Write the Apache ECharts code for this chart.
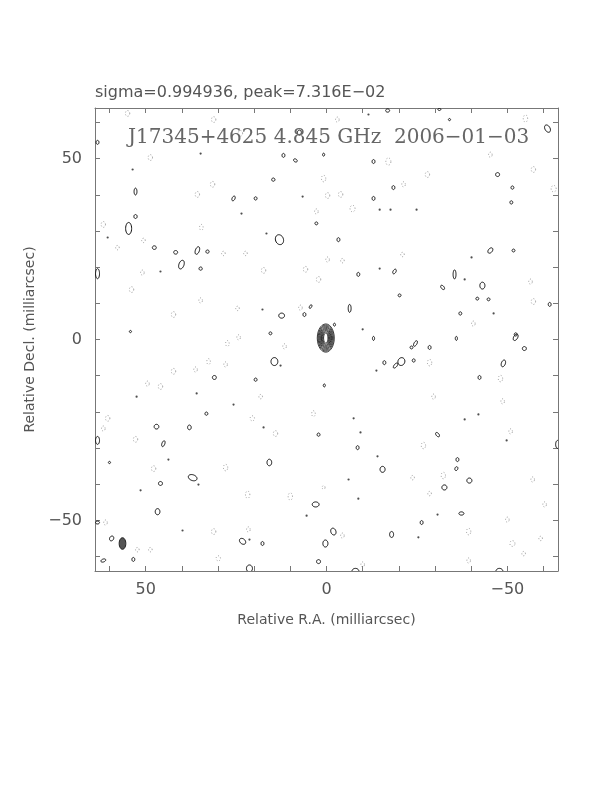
<!DOCTYPE html>
<html><head><meta charset="utf-8">
<script src="https://cdn.jsdelivr.net/npm/echarts@6/dist/echarts.min.js"></script>
<style>html,body{margin:0;padding:0;background:#fff}#c{width:612px;height:792px}</style>
</head><body><div id="c"></div><script>
// ---- data (milliarcsec) ----
var headerText = 'sigma=0.994936, peak=7.316E\u221202';
var mapTitle = 'J17345+4625 4.845 GHz  2006\u221201\u221203';
var xTitle = 'Relative R.A. (milliarcsec)';
var yTitle = 'Relative Decl. (milliarcsec)';
var axisRange = [-64, 64];
var minorTicks = [-60, -50, -40, -30, -20, -10, 0, 10, 20, 30, 40, 50, 60];
var labelTicks = [-50, 0, 50];

// core source: centre and nested contour semi-axes (RA, Dec)
var sourceCentre = [0.2, 0.4];
var sourceA = [2.35, 2.1, 1.85, 1.62, 1.4, 1.2, 1.0, 0.8, 0.6];
var sourceB = [3.9, 3.6, 3.3, 3.0, 2.7, 2.4, 2.1, 1.75, 1.4];

// restoring beam: [ra, dec, semiA, semiB]
var beam = [56.4, -56.4, 0.92, 1.6];

// positive noise contours: [ra, dec, semiA, semiB, tilt]
var posContours = [
[63.3,54.5,0.4,0.55,0],[7.5,57.2,0.55,0.7,0],[11.9,50.9,0.4,0.55,0],[8.6,49.5,0.55,0.4,-30],
[0.8,51.1,0.3,0.4,0],[14.7,44.2,0.45,0.45,0],[52.8,40.9,0.4,0.95,0],[25.7,39.0,0.4,0.7,-25],
[19.6,39.0,0.4,0.45,0],[52.8,34.0,0.45,0.55,0],[54.7,30.7,0.83,1.66,0],[13.0,27.6,1.1,1.4,20],
[2.8,32.1,0.4,0.4,0],[47.6,25.4,0.55,0.5,0],[41.7,24.1,0.55,0.5,0],[35.7,24.6,0.55,1.1,-20],
[32.9,24.3,0.45,0.45,0],[40.1,20.7,0.7,1.25,-20],[34.8,19.6,0.45,0.45,0],[63.3,18.2,0.55,1.4,0],
[12.4,6.6,0.8,0.7,0],[6.1,6.9,0.4,0.55,0],[4.4,9.1,0.3,0.55,-30],[54.2,2.2,0.3,0.3,0],
[15.5,1.7,0.4,0.4,0],[-16.9,63.3,0.55,0.45,0],[-31.2,63.6,0.4,0.3,0],[-34.0,60.8,0.3,0.3,0],
[-61.1,58.3,0.7,1.1,30],[-13.0,49.2,0.4,0.55,0],[-47.3,45.6,0.55,0.55,0],[-51.4,42.0,0.4,0.45,0],
[-18.5,42.0,0.4,0.55,0],[-13.0,39.0,0.4,0.55,0],[-51.1,37.9,0.4,0.45,0],[-3.3,27.6,0.4,0.55,0],
[-45.3,24.6,0.55,0.85,-40],[-51.7,24.6,0.4,0.4,0],[-8.8,18.0,0.4,0.55,0],[-18.8,18.8,0.4,0.7,-30],
[-35.4,18.0,0.4,1.25,0],[-32.1,14.4,0.4,0.7,40],[-43.1,14.9,0.7,0.95,0],[-20.2,12.2,0.4,0.4,0],
[-41.7,11.3,0.4,0.4,0],[-44.8,11.1,0.4,0.4,0],[-6.4,8.6,0.4,1.1,0],[-37.0,7.2,0.4,0.45,0],
[-61.7,9.7,0.4,0.55,0],[-2.2,4.1,0.3,0.4,0],[-52.3,1.4,0.4,0.45,0],[14.4,-6.1,0.95,1.1,0],
[31.0,-10.5,0.55,0.55,0],[19.6,-11.1,0.4,0.45,0],[0.6,-12.7,0.3,0.4,0],[33.2,-20.5,0.4,0.45,0],
[47.0,-24.1,0.65,0.65,0],[37.9,-24.3,0.5,0.65,0],[63.3,-27.9,0.55,1.1,0],[45.1,-28.8,0.4,0.85,-20],
[2.2,-26.3,0.4,0.45,0],[60.0,-34.0,0.3,0.3,0],[15.8,-34.0,0.65,0.9,0],[37.0,-38.2,1.25,0.8,-20],
[45.9,-39.8,0.55,0.55,0],[3.0,-45.6,0.95,0.7,0],[46.7,-47.6,0.65,0.85,0],[63.3,-50.6,0.55,0.4,0],
[59.4,-55.0,0.55,0.7,-30],[53.4,-60.8,0.4,0.55,0],[61.7,-61.1,0.7,0.4,20],[23.2,-55.8,0.97,0.7,-40],
[17.7,-56.4,0.4,0.55,0],[0.3,-56.4,0.7,0.97,0],[21.3,-63.3,0.83,0.97,0],[2.2,-61.4,0.55,0.55,0],
[-13.0,0.3,0.3,0.55,0],[-24.6,-1.1,0.4,0.85,-30],[-23.5,-2.2,0.4,0.4,0],[-28.5,-2.2,0.4,0.55,0],
[-35.9,0.3,0.3,0.55,0],[-52.3,0.6,0.55,0.97,-30],[-54.7,-2.5,0.55,0.55,0],[-16.0,-6.4,0.4,0.55,0],
[-20.7,-6.1,0.95,1.1,-20],[-19.1,-7.2,0.4,0.85,-40],[-24.1,-5.8,0.4,0.45,0],[-48.9,-6.6,0.55,0.97,-20],
[-42.3,-10.5,0.4,0.55,0],[-30.7,-26.3,0.4,0.7,40],[-8.6,-29.9,0.4,0.55,0],[-63.9,-29.0,0.55,1.1,0],
[-36.2,-33.2,0.4,0.55,0],[-35.9,-35.7,0.4,0.55,-20],[-15.5,-35.9,0.7,0.83,0],[-39.5,-39.0,0.7,0.7,0],
[-32.6,-40.9,0.7,0.7,0],[-37.3,-48.1,0.7,0.45,0],[-26.3,-50.6,0.4,0.55,0],[-1.9,-53.1,0.7,0.97,20],
[-18.0,-53.9,0.55,0.83,0],[-8.0,-64.1,0.97,0.83,0],[-47.8,-64.1,0.97,0.83,0]
];

// negative noise contours: [ra, dec, semiA, semiB]
var negContours = [
[55.0,62.5,0.6,0.8],[48.7,50.3,0.6,0.8],[31.2,60.8,0.6,0.8],[23.8,57.0,0.6,0.8],[31.5,42.9,0.6,0.8],
[35.7,40.1,0.6,0.8],[0.8,44.5,0.6,0.9],[-0.3,39.8,0.6,0.8],[2.8,35.4,0.5,0.7],[61.7,31.8,0.6,0.8],
[34.6,31.0,0.5,0.8],[50.6,27.4,0.5,0.6],[57.8,25.4,0.5,0.6],[28.5,23.8,0.5,0.6],[22.4,23.8,0.5,0.6],
[17.4,19.1,0.6,0.8],[5.8,19.4,0.6,0.8],[2.2,16.6,0.6,0.8],[-0.3,22.1,0.5,0.7],[50.9,18.5,0.5,0.7],
[53.9,13.8,0.6,0.8],[34.8,10.8,0.5,0.7],[42.3,6.9,0.6,0.8],[7.2,8.8,0.5,0.7],[24.6,8.6,0.5,0.6],
[-3.0,60.8,0.5,0.7],[-17.1,49.2,0.7,1.0],[-27.9,45.6,0.6,0.8],[-3.9,40.1,0.6,0.8],[-7.2,36.2,0.7,0.9],
[-21.3,42.9,0.5,0.7],[-55.0,61.1,0.6,1.0],[-57.2,47.0,0.6,0.8],[-62.8,41.7,0.7,0.9],[-45.3,51.1,0.5,0.7],
[-4.4,21.8,0.5,0.6],[-21.0,23.5,0.5,0.6],[-57.2,10.5,0.6,0.8],[-56.4,16.0,0.5,0.7],[-40.6,4.4,0.5,0.7],
[27.4,-1.1,0.5,0.8],[24.3,0.6,0.5,0.7],[11.6,-1.9,0.5,0.7],[32.6,-6.1,0.5,0.8],[27.9,-6.9,0.5,0.7],
[42.3,-8.8,0.6,0.8],[36.2,-8.3,0.5,0.7],[49.5,-12.2,0.5,0.7],[45.9,-13.0,0.6,0.8],[18.2,-15.8,0.5,0.6],
[60.5,-21.8,0.6,0.8],[61.7,-24.6,0.5,0.7],[52.8,-27.6,0.6,0.8],[20.5,-21.8,0.6,0.7],[14.1,-26.0,0.6,0.8],
[3.6,-20.5,0.5,0.8],[47.8,-35.7,0.6,0.8],[27.9,-35.4,0.6,0.9],[21.8,-42.9,0.6,1.0],[10.0,-43.4,0.6,1.0],
[61.1,-50.6,0.5,0.7],[31.2,-53.1,0.6,0.8],[21.6,-52.5,0.5,0.7],[52.3,-58.1,0.5,0.6],[48.7,-58.1,0.5,0.6],
[29.9,-60.5,0.6,0.7],[-28.5,-6.4,0.6,0.9],[-48.1,-10.8,0.6,0.9],[-48.7,-17.1,0.5,0.7],[-29.6,-15.8,0.5,0.7],
[-50.9,-25.4,0.5,0.7],[-26.8,-29.3,0.6,0.9],[-23.8,-38.2,0.5,0.6],[-32.3,-37.6,0.6,0.9],[-28.5,-42.6,0.5,0.6],
[-57.0,-38.7,0.5,0.7],[-60.3,-45.6,0.5,0.7],[-39.3,-53.1,0.6,0.9],[-50.0,-49.8,0.5,0.7],[-51.4,-56.4,0.7,0.8],
[-54.5,-59.2,0.5,0.6],[-39.3,-61.1,0.5,0.7],[-4.4,-54.2,0.5,0.7],[-10.0,-62.2,0.5,0.7],[-59.2,-55.0,0.5,0.6],
[0.8,-40.9,0.4,0.5]
];

// single-pixel positive peaks: [ra, dec]
var tinyPeaks = [
[34.8,51.4],[53.6,47.0],[6.6,39.5],[23.5,34.8],[16.6,29.3],[60.5,28.2],[45.9,18.8],[17.7,8.3],
[-11.6,62.2],[-14.7,35.9],[-17.7,35.9],[-24.9,35.9],[-14.7,19.6],[-40.1,22.7],[-38.2,16.6],[-46.2,7.2],
[-10.0,2.8],[12.7,-7.2],[35.9,-14.9],[52.5,-15.8],[25.7,-18.0],[17.4,-24.3],[43.7,-33.2],[51.4,-41.7],
[35.4,-40.1],[5.5,-48.7],[39.8,-52.8],[21.3,-55.3],[-13.8,-8.6],[-7.5,-21.8],[-9.4,-25.7],[-14.1,-32.3],
[-6.1,-38.7],[-8.8,-44.0],[-30.7,-48.4],[-25.4,-54.7],[-49.8,-27.9],[-42.0,-20.7],[-38.2,-22.1]
];

// ---- build ----
var sourceLevels = sourceA.map(function (a, i) { return [sourceCentre[0], sourceCentre[1], a, sourceB[i], 0]; });
var negData = negContours.map(function (d) { return [d[0], d[1], d[2], d[3], 0]; });

function ellipseItem(stroke, dash, fill, width) {
  return function (params, api) {
    var c = api.coord([api.value(0), api.value(1)]);
    var s = api.size([api.value(2), api.value(3)]);
    var th = api.value(4) * Math.PI / 180;
    var pts = [];
    var n = 28;
    for (var k = 0; k < n; k++) {
      var t = 2 * Math.PI * k / n;
      var ex = s[0] * Math.cos(t), ey = s[1] * Math.sin(t);
      var rx = ex * Math.cos(th) - ey * Math.sin(th);
      var ry = ex * Math.sin(th) + ey * Math.cos(th);
      pts.push([c[0] + rx, c[1] - ry]);
    }
    return {
      type: 'polygon',
      shape: { points: pts },
      style: { fill: fill || 'none', stroke: stroke, lineWidth: width || 1, lineDash: dash || null },
      silent: true
    };
  };
}

var fontSans = 'DejaVu Sans';
var textCol = '#555';
var axisCol = '#777';

function fmt(v) { return v < 0 ? '\u2212' + Math.abs(v) : String(v); }

function xAx(pos, showLabel) {
  return {
    type: 'value', position: pos, inverse: true, min: axisRange[0], max: axisRange[1],
    splitLine: { show: false },
    axisLine: { show: true, onZero: false, lineStyle: { color: axisCol, width: 1 } },
    axisTick: { show: true, inside: true, length: 5, customValues: minorTicks, lineStyle: { color: axisCol } },
    axisLabel: { show: showLabel, customValues: labelTicks, margin: 11, fontFamily: fontSans, fontSize: 16, color: textCol, formatter: fmt },
    name: showLabel ? xTitle : '', nameLocation: 'middle', nameGap: 42,
    nameTextStyle: { fontFamily: fontSans, fontSize: 14, color: textCol }
  };
}
function yAx(pos, showLabel) {
  return {
    type: 'value', position: pos, min: axisRange[0], max: axisRange[1],
    splitLine: { show: false },
    axisLine: { show: true, onZero: false, lineStyle: { color: axisCol, width: 1 } },
    axisTick: { show: true, inside: true, length: 5, customValues: minorTicks, lineStyle: { color: axisCol } },
    axisLabel: { show: showLabel, customValues: labelTicks, margin: 13, fontFamily: fontSans, fontSize: 16, color: textCol, formatter: fmt },
    name: showLabel ? yTitle : '', nameLocation: 'middle', nameGap: 46,
    nameTextStyle: { fontFamily: fontSans, fontSize: 14, color: textCol }
  };
}

var chart = echarts.init(document.getElementById('c'), null, { renderer: 'canvas' });
chart.setOption({
  animation: false,
  backgroundColor: '#fff',
  title: [
    { text: headerText, left: 90, top: 80, textStyle: { fontFamily: fontSans, fontSize: 16, fontWeight: 'normal', color: textCol } },
    { text: mapTitle, left: 123, top: 123, textStyle: { fontFamily: 'DejaVu Serif', fontSize: 20, fontWeight: 'normal', color: '#666' } }
  ],
  grid: { left: 95, top: 108, width: 463, height: 463, containLabel: false },
  xAxis: [xAx('bottom', true), xAx('top', false)],
  yAxis: [yAx('left', true), yAx('right', false)],
  series: [
    { type: 'custom', name: 'negative', clip: true, renderItem: ellipseItem('#999', [1, 2]), data: negData, z: 2 },
    { type: 'custom', name: 'positive', clip: true, renderItem: ellipseItem('#111'), data: posContours, z: 3 },
    { type: 'custom', name: 'source', clip: true, renderItem: ellipseItem('#222', null, null, 0.9), data: sourceLevels, z: 4 },
    { type: 'custom', name: 'beam', clip: true, renderItem: ellipseItem('#222', null, '#555'), data: [[beam[0], beam[1], beam[2], beam[3], 0]], z: 4 },
    { type: 'scatter', name: 'peaks', data: tinyPeaks, symbol: 'circle', symbolSize: 2.2, itemStyle: { color: '#222' }, silent: true, z: 3 }
  ]
});
</script></body></html>
